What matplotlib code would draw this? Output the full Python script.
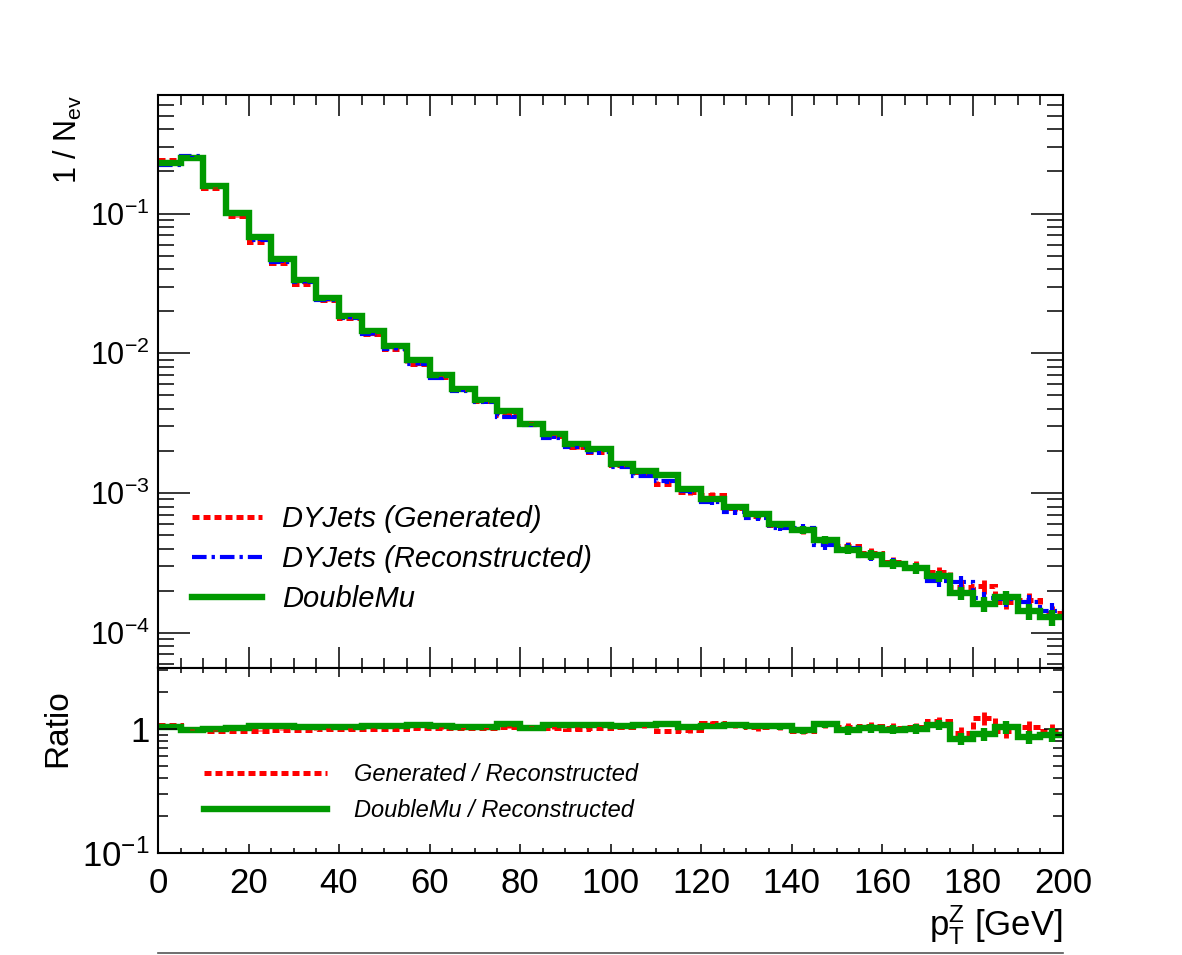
"""pT(Z) spectrum: DYJets gen / reco vs DoubleMu data, with ratio pad."""

import matplotlib

matplotlib.use("Agg")
import matplotlib.pyplot as plt
import numpy as np
from matplotlib.lines import Line2D
from matplotlib.ticker import (FixedLocator, FuncFormatter, LogLocator,
                               MultipleLocator, NullFormatter)

plt.rcParams["font.family"] = ["Liberation Sans", "DejaVu Sans"]
plt.rcParams["mathtext.fontset"] = "custom"
plt.rcParams["mathtext.rm"] = "Liberation Sans"
plt.rcParams["mathtext.it"] = "Liberation Sans:italic"
plt.rcParams["axes.linewidth"] = 1.5

# --- data ---
pt_edges = np.arange(0, 201, 5)

doublemu = [0.231, 0.251, 0.158, 0.1012, 0.0674, 0.0469, 0.0333, 0.0247,
            0.0185, 0.01445, 0.01127, 0.00891, 0.00695, 0.00558, 0.00460,
            0.00386, 0.00310, 0.00266, 0.00226, 0.00208, 0.00162, 0.00143,
            0.00134, 0.00107, 0.00091, 0.000793, 0.000703, 0.000596,
            0.000548, 0.000462, 0.000394, 0.000361, 0.000312, 0.000290,
            0.000254, 0.000192, 0.000161, 0.000179, 0.000142, 0.000129]

# DoubleMu / Reconstructed
ratio_mu_reco = [1.034, 0.98, 1.0, 1.02, 1.047, 1.047, 1.034, 1.034, 1.034,
                 1.047, 1.047, 1.067, 1.047, 1.034, 1.034, 1.10, 1.015, 1.067,
                 1.067, 1.067, 1.047, 1.08, 1.10, 1.034, 1.047, 1.08, 1.053,
                 1.053, 0.973, 1.09, 0.973, 1.015, 0.99, 1.004, 1.08, 0.834,
                 0.915, 1.034, 0.859, 0.898]

# Generated / Reconstructed
ratio_gen_reco = [1.08, 0.99, 0.97, 0.96, 0.97, 0.99, 0.98, 1.0, 1.0, 1.0,
                  1.0, 1.01, 1.015, 1.02, 1.02, 1.034, 1.02, 1.02, 1.0, 1.015,
                  1.03, 1.067, 0.96, 0.98, 1.11, 1.07, 1.03, 1.05, 0.97, 1.09,
                  1.03, 1.05, 1.02, 1.03, 1.15, 0.93, 1.22, 0.96, 1.03, 0.96]

# relative statistical uncertainty per bin
stat_err = [0.003, 0.003, 0.004, 0.005, 0.006, 0.007, 0.008, 0.010, 0.011,
            0.013, 0.014, 0.016, 0.018, 0.020, 0.022, 0.024, 0.027, 0.029,
            0.032, 0.033, 0.038, 0.040, 0.041, 0.046, 0.050, 0.054, 0.057,
            0.062, 0.065, 0.070, 0.076, 0.079, 0.086, 0.089, 0.095, 0.109,
            0.120, 0.113, 0.127, 0.133]

doublemu = np.array(doublemu)
ratio_mu_reco = np.array(ratio_mu_reco)
ratio_gen_reco = np.array(ratio_gen_reco)
stat_err = np.array(stat_err)
reco = doublemu / ratio_mu_reco
gen = ratio_gen_reco * reco
centers = 0.5 * (pt_edges[1:] + pt_edges[:-1])

RED = "#ff0000"
BLUE = "#0000ff"
GREEN = "#009900"
DOT = (0, (1.4, 0.8))
DASHDOT = (0, (3.5, 1.2, 0.8, 1.2))

W, H = 1182, 955
fig = plt.figure(figsize=(W / 100, H / 100), dpi=100)
L, R = 158, 1063
ax1 = fig.add_axes([L / W, (H - 667.5) / H, (R - L) / W, 572.5 / H])
ax2 = fig.add_axes([L / W, (H - 853) / H, (R - L) / W, 185.5 / H])

# --- upper pad ---
ax1.stairs(gen, pt_edges, baseline=None, color=RED, lw=3.6, ls=DOT)
ax1.errorbar(centers, gen, yerr=gen * stat_err, fmt="none", ecolor=RED,
             elinewidth=3.5, capsize=0)
ax1.stairs(reco, pt_edges, baseline=None, color=BLUE, lw=3.0, ls=DASHDOT)
ax1.errorbar(centers, reco, yerr=reco * stat_err, fmt="none", ecolor=BLUE,
             elinewidth=3.0, capsize=0)
ax1.stairs(doublemu, pt_edges, baseline=None, color=GREEN, lw=4.6)
ax1.errorbar(centers, doublemu, yerr=doublemu * stat_err, fmt="none",
             ecolor=GREEN, elinewidth=4.6, capsize=0)

ax1.set_yscale("log")
ax1.set_xlim(0, 200)
ax1.set_ylim(5.64e-5, 0.705)
ax1.xaxis.set_major_locator(MultipleLocator(20))
ax1.xaxis.set_minor_locator(MultipleLocator(5))
ax1.yaxis.set_minor_locator(LogLocator(base=10, subs=np.arange(2, 10)))
ax1.yaxis.set_minor_formatter(NullFormatter())
ax1.tick_params(which="both", direction="in", top=True, right=True,
                labelbottom=False, width=1.1)
ax1.tick_params(axis="y", which="major", length=23, labelsize=22, pad=6)
ax1.tick_params(axis="y", which="minor", length=11.5)
ax1.tick_params(axis="x", which="major", length=15)
ax1.tick_params(axis="x", which="minor", length=7.5)
ax1.set_ylabel(r"1 / N$_{\mathregular{ev}}$", fontsize=22, loc="top")
ax1.yaxis.set_label_coords(-0.082, 1.0)

handles1 = [Line2D([], [], color=RED, lw=3.6, ls=DOT),
            Line2D([], [], color=BLUE, lw=3.0, ls=DASHDOT),
            Line2D([], [], color=GREEN, lw=4.6)]
labels1 = ["DYJets (Generated)", "DYJets (Reconstructed)", "DoubleMu"]
ax1.legend(handles1, labels1, loc="upper left", bbox_to_anchor=(0.0376, 0.284),
           frameon=False, borderpad=0, borderaxespad=0, handlelength=2.4,
           handletextpad=0.68, labelspacing=0.42,
           prop={"size": 21, "style": "italic"})

# --- ratio pad ---
ax2.stairs(ratio_gen_reco, pt_edges, baseline=None, color=RED, lw=3.6, ls=DOT)
ax2.errorbar(centers, ratio_gen_reco, yerr=ratio_gen_reco * stat_err,
             fmt="none", ecolor=RED, elinewidth=3.5, capsize=0)
ax2.stairs(ratio_mu_reco, pt_edges, baseline=None, color=GREEN, lw=4.6)
ax2.errorbar(centers, ratio_mu_reco, yerr=ratio_mu_reco * stat_err,
             fmt="none", ecolor=GREEN, elinewidth=4.6, capsize=0)

ax2.set_yscale("log")
ax2.set_xlim(0, 200)
ax2.set_ylim(0.1, 3.13)
ax2.xaxis.set_major_locator(MultipleLocator(20))
ax2.xaxis.set_minor_locator(MultipleLocator(5))
ax2.yaxis.set_major_locator(FixedLocator([0.1, 1]))
ax2.yaxis.set_major_formatter(FuncFormatter(
    lambda v, _: "1" if abs(v - 1) < 1e-9 else r"10$^{\mathregular{-1}}$"))
ax2.yaxis.set_minor_locator(LogLocator(base=10, subs=np.arange(2, 10)))
ax2.yaxis.set_minor_formatter(NullFormatter())
ax2.tick_params(which="both", direction="in", top=True, right=True, width=1.1)
ax2.tick_params(axis="y", which="major", length=14, labelsize=25, pad=6)
ax2.tick_params(axis="y", which="minor", length=7)
ax2.tick_params(axis="x", which="major", length=6.5, labelsize=25, pad=10)
ax2.tick_params(axis="x", which="minor", length=3.6)
ax2.set_ylabel("Ratio", fontsize=24)
ax2.yaxis.set_label_coords(-0.094, 0.674)
ax2.set_xlabel(r"p$_{\mathregular{T}}^{\mathregular{Z}}$ [GeV]", fontsize=25,
               loc="right", labelpad=2)

handles2 = [Line2D([], [], color=RED, lw=3.6, ls=DOT),
            Line2D([], [], color=GREEN, lw=4.6)]
labels2 = ["Generated / Reconstructed", "DoubleMu / Reconstructed"]
ax2.legend(handles2, labels2, loc="upper left", bbox_to_anchor=(0.0508, 0.485),
           frameon=False, borderpad=0, borderaxespad=0, handlelength=5.2,
           handletextpad=1.15, labelspacing=0.55,
           prop={"size": 17, "style": "italic"})

fig.add_artist(Line2D([L / W, R / W], [2 / H, 2 / H], transform=fig.transFigure,
                      color="#555555", lw=1.2))

fig.savefig("out.png", dpi=100)
